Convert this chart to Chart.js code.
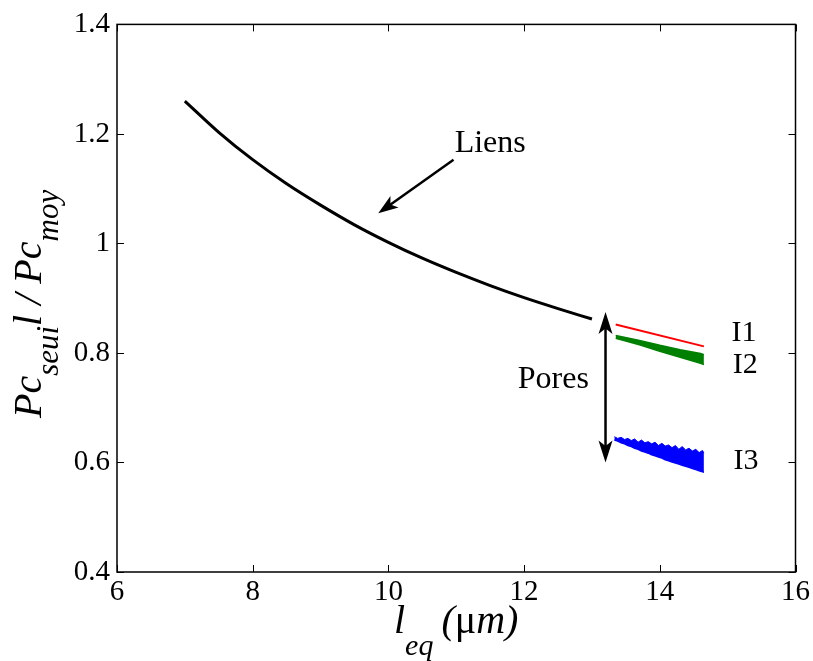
<!DOCTYPE html>
<html>
<head>
<meta charset="utf-8">
<script src="https://cdn.jsdelivr.net/npm/chart.js@4.4.1/dist/chart.umd.min.js"></script>
<style>
    html, body { margin: 0; padding: 0; background: #fff; }
    #wrap { width: 813px; height: 661px; }
</style>
</head>
<body>
<div id="wrap"><canvas id="chart" width="813" height="661"></canvas></div>
<script>
const xTicks = [6, 8, 10, 12, 14, 16];
const yTicks = [0.4, 0.6, 0.8, 1, 1.2, 1.4];

// liens curve
const liensX = [7, 7.5, 8, 8.5, 9, 9.5, 10, 10.5, 11, 11.5, 12, 12.5, 13];
const liensY = [1.26, 1.203, 1.153, 1.109, 1.07, 1.034, 1.002, 0.973, 0.947, 0.923, 0.901, 0.881, 0.862];

// I1 (red)
const i1X = [13.35, 14.65];
const i1Y = [0.852, 0.812];

// I2 (green band)
const i2X = [13.35, 13.7, 14.0, 14.3, 14.6, 14.65];
const i2Top = [0.832, 0.823, 0.814, 0.806, 0.799, 0.797];
const i2Bot = [0.827, 0.815, 0.803, 0.792, 0.781, 0.779];

// I3 (blue band, rough upper edge)
const i3X = [13.33, 13.38, 13.43, 13.48, 13.53, 13.58, 13.63, 13.68, 13.73, 13.78, 13.83, 13.88, 13.93, 13.98,
    14.03, 14.08, 14.13, 14.18, 14.23, 14.28, 14.33, 14.38, 14.43, 14.48, 14.53, 14.58, 14.63, 14.65];
const i3Top = [0.647, 0.644, 0.646, 0.642, 0.644, 0.640, 0.643, 0.637, 0.641, 0.636, 0.638, 0.634, 0.637, 0.631,
    0.635, 0.630, 0.632, 0.627, 0.631, 0.624, 0.629, 0.623, 0.626, 0.621, 0.624, 0.618, 0.622, 0.617];
const i3Bot = [0.641, 0.639, 0.636, 0.634, 0.631, 0.629, 0.626, 0.624, 0.621, 0.619, 0.617, 0.614, 0.612, 0.610,
    0.608, 0.605, 0.603, 0.601, 0.599, 0.597, 0.595, 0.593, 0.591, 0.589, 0.587, 0.585, 0.583, 0.582];

const pts = (xs, ys) => xs.map((x, i) => ({ x: x, y: ys[i] }));

const serif = '"Liberation Serif", "DejaVu Serif", serif';

// draw text runs with subscripts
function drawRuns(ctx, runs, x, y) {
    let cx = x;
    runs.forEach((r) => {
        ctx.font = (r.italic ? 'italic ' : '') + r.size + 'px ' + serif;
        ctx.fillText(r.text, cx, y + (r.dy || 0));
        cx += ctx.measureText(r.text).width + (r.gap || 0);
    });
}

function arrowHead(ctx, x1, y1, x2, y2, len, wid) {
    const a = Math.atan2(y2 - y1, x2 - x1);
    ctx.beginPath();
    ctx.moveTo(x2, y2);
    ctx.lineTo(x2 - len * Math.cos(a) + wid * Math.sin(a), y2 - len * Math.sin(a) - wid * Math.cos(a));
    ctx.lineTo(x2 - len * Math.cos(a) * 0.75, y2 - len * Math.sin(a) * 0.75);
    ctx.lineTo(x2 - len * Math.cos(a) - wid * Math.sin(a), y2 - len * Math.sin(a) + wid * Math.cos(a));
    ctx.closePath();
    ctx.fill();
}

const decor = {
    id: 'decor',
    afterDatasetsDraw(chart) {
        const ctx = chart.ctx;
        const xs = chart.scales.x;
        const ys = chart.scales.y;
        const a = chart.chartArea;
        ctx.save();
        ctx.strokeStyle = '#000';
        ctx.fillStyle = '#000';

        // box
        ctx.lineWidth = 1.5;
        ctx.strokeRect(a.left, a.top, a.right - a.left, a.bottom - a.top);

        // inward ticks on all sides
        ctx.lineWidth = 1;
        ctx.beginPath();
        xTicks.forEach((v) => {
            const px = Math.round(xs.getPixelForValue(v)) + 0.5;
            ctx.moveTo(px, a.bottom); ctx.lineTo(px, a.bottom - 7);
            ctx.moveTo(px, a.top); ctx.lineTo(px, a.top + 7);
        });
        yTicks.forEach((v) => {
            const py = Math.round(ys.getPixelForValue(v)) + 0.5;
            ctx.moveTo(a.left, py); ctx.lineTo(a.left + 7, py);
            ctx.moveTo(a.right, py); ctx.lineTo(a.right - 7, py);
        });
        ctx.stroke();

        // Liens arrow
        ctx.lineWidth = 2.5;
        const lx1 = xs.getPixelForValue(10.96), ly1 = ys.getPixelForValue(1.153);
        const lx2 = xs.getPixelForValue(9.85), ly2 = ys.getPixelForValue(1.055);
        ctx.beginPath();
        ctx.moveTo(lx1, ly1);
        ctx.lineTo(lx2 + (lx1 - lx2) * 0.15, ly2 + (ly1 - ly2) * 0.15);
        ctx.stroke();
        arrowHead(ctx, lx1, ly1, lx2, ly2, 20, 7);

        // Pores double arrow
        const px = xs.getPixelForValue(13.2);
        const pTop = ys.getPixelForValue(0.875), pBot = ys.getPixelForValue(0.6);
        ctx.beginPath();
        ctx.moveTo(px, pTop + 14);
        ctx.lineTo(px, pBot - 14);
        ctx.stroke();
        arrowHead(ctx, px, pBot, px, pTop, 22, 7);
        arrowHead(ctx, px, pTop, px, pBot, 22, 7);

        // annotations
        ctx.textBaseline = 'middle';
        ctx.textAlign = 'center';
        ctx.font = '32px ' + serif;
        ctx.fillText('Liens', xs.getPixelForValue(11.5), ys.getPixelForValue(1.183));
        ctx.fillText('Pores', xs.getPixelForValue(12.43), ys.getPixelForValue(0.752));
        ctx.font = '30px ' + serif;
        ctx.fillText('I1', xs.getPixelForValue(15.24), ys.getPixelForValue(0.836));
        ctx.fillText('I2', xs.getPixelForValue(15.26), ys.getPixelForValue(0.778));
        ctx.fillText('I3', xs.getPixelForValue(15.27), ys.getPixelForValue(0.603));

        // axis titles
        ctx.textAlign = 'left';
        ctx.textBaseline = 'alphabetic';
        const xRuns = [
            { text: 'l', italic: true, size: 40 },
            { text: 'eq', italic: true, size: 30, dy: 22, gap: 8 },
            { text: '(', italic: true, size: 40 },
            { text: '\u03bc', italic: false, size: 40 },
            { text: 'm)', italic: true, size: 40 }
        ];
        drawRuns(ctx, xRuns, 394, 633);

        const yRuns = [
            { text: 'Pc', italic: true, size: 40 },
            { text: 'seui', italic: true, size: 31, dy: 17 },
            { text: 'l / Pc', italic: true, size: 40 },
            { text: 'moy', italic: true, size: 31, dy: 17 }
        ];
        ctx.translate(41, 418);
        ctx.rotate(-Math.PI / 2);
        drawRuns(ctx, yRuns, 0, 0);
        ctx.restore();
    }
};

new Chart(document.getElementById('chart'), {
    type: 'scatter',
    data: {
        datasets: [
            {
                data: pts(liensX, liensY),
                showLine: true, borderColor: '#000', borderWidth: 3,
                pointRadius: 0, cubicInterpolationMode: 'monotone', fill: false
            },
            {
                data: pts(i1X, i1Y),
                showLine: true, borderColor: '#ff0000', borderWidth: 2,
                pointRadius: 0, fill: false
            },
            {
                data: pts(i2X, i2Top),
                showLine: true, borderColor: '#008000', borderWidth: 1.5,
                pointRadius: 0, fill: false
            },
            {
                data: pts(i2X, i2Bot),
                showLine: true, borderColor: '#008000', borderWidth: 1.5,
                pointRadius: 0, fill: '-1', backgroundColor: '#008000'
            },
            {
                data: pts(i3X, i3Top),
                showLine: true, borderColor: '#0000ff', borderWidth: 1,
                pointRadius: 0, fill: false
            },
            {
                data: pts(i3X, i3Bot),
                showLine: true, borderColor: '#0000ff', borderWidth: 1.5,
                pointRadius: 0, fill: '-1', backgroundColor: '#0000ff'
            }
        ]
    },
    options: {
        responsive: false,
        animation: false,
        layout: { padding: { left: 0, top: 20, right: 16, bottom: 0 } },
        plugins: {
            legend: { display: false },
            tooltip: { enabled: false }
        },
        scales: {
            x: {
                type: 'linear', min: 6, max: 16,
                afterBuildTicks: (s) => { s.ticks = xTicks.map((v) => ({ value: v })); },
                afterFit: (s) => { s.height = 89; },
                grid: { display: false, drawTicks: false },
                border: { display: false },
                ticks: {
                    color: '#000', padding: 3,
                    font: { family: serif, size: 29 },
                    callback: (v) => String(v)
                }
            },
            y: {
                type: 'linear', min: 0.4, max: 1.4,
                afterBuildTicks: (s) => { s.ticks = yTicks.map((v) => ({ value: v })); },
                afterFit: (s) => { s.width = 117; },
                grid: { display: false, drawTicks: false },
                border: { display: false },
                ticks: {
                    color: '#000', padding: 7,
                    font: { family: serif, size: 29 },
                    callback: (v) => String(+v.toFixed(1))
                }
            }
        }
    },
    plugins: [decor]
});
</script>
</body>
</html>
